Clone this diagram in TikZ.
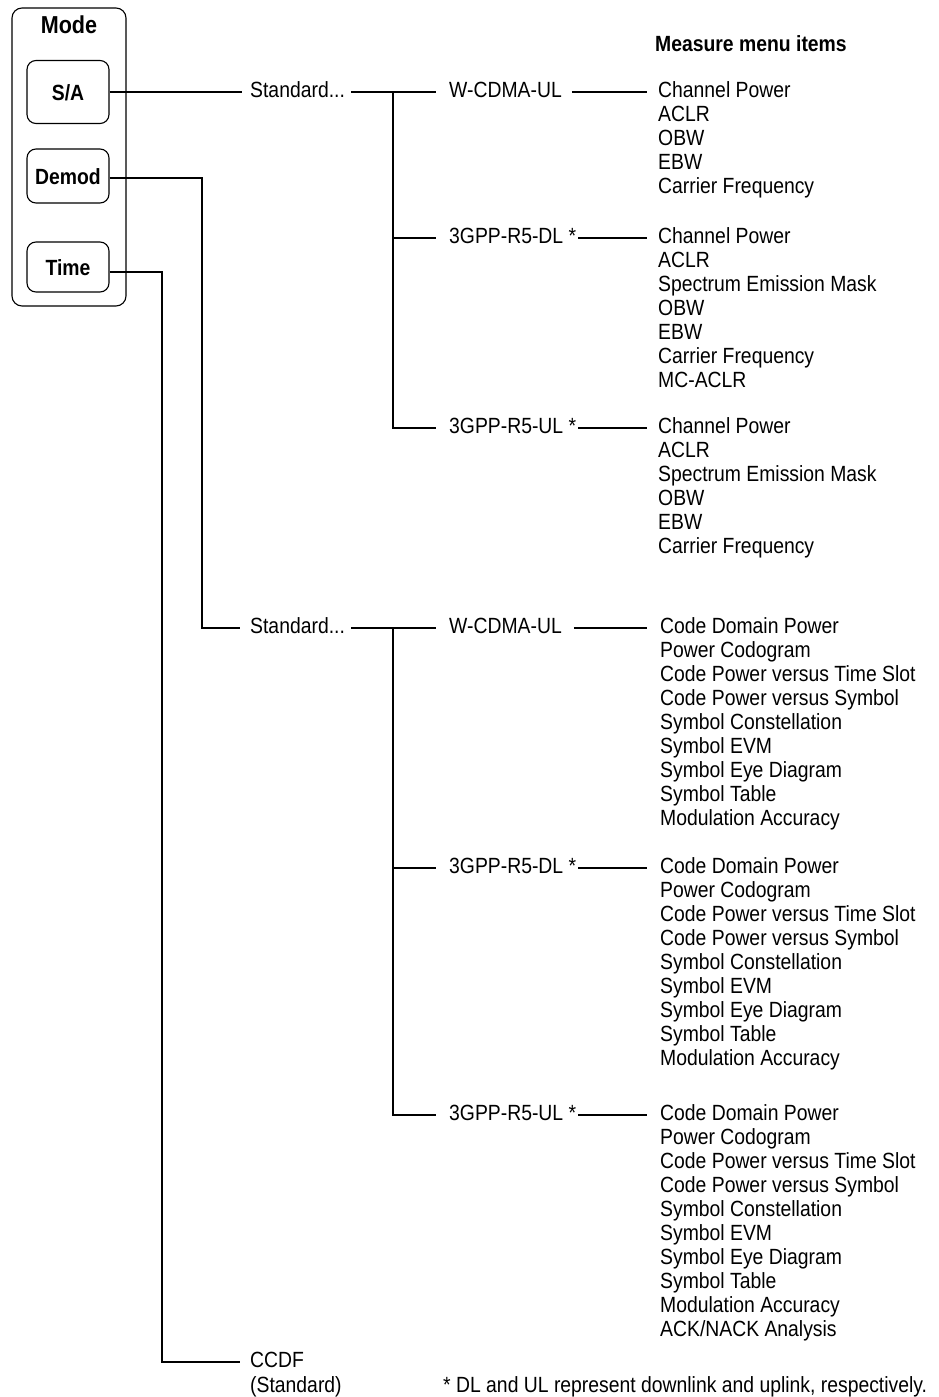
\documentclass[tikz,border=0pt]{standalone}
\usepackage{fontspec}
\setmainfont{Liberation Sans}[FakeStretch=0.88]
\newcommand{\lbl}{\fontsize{22}{24}\selectfont}
\begin{document}
\begin{tikzpicture}[x=1pt,y=-1pt,
  lab/.style={inner sep=0pt, text height=11pt, text depth=0pt, anchor=west, font=\lbl},
  conn/.style={line width=1.8pt},
  modebox/.style={draw, line width=1.1pt, rounded corners=9pt, minimum width=82pt,
     font=\lbl\bfseries, text height=16pt, text depth=0pt, inner sep=0pt},
]
\useasboundingbox (0,0) rectangle (938,1397);
% Mode panel
\node[draw, line width=1.1pt, rounded corners=10pt, minimum width=114pt, minimum height=298pt, inner sep=0pt] (panel) at (69,157) {};
\node[font=\fontsize{24.5}{26}\selectfont\bfseries, anchor=base, inner sep=0pt] (mode) at (69,34) {Mode};
\node[modebox, minimum height=63pt] (sa) at (68,92) {S/A};
\node[modebox, minimum height=54pt] (demod) at (68,176) {Demod};
\node[modebox, minimum height=50pt] (time) at (68,267) {Time};

% header
\node[font=\lbl\bfseries, anchor=base west, inner sep=0pt] (hdr) at (655,52) {Measure menu items};

% S/A tree
\node[lab] (std1) at (250,92) {Standard...};
\node[lab] (wc1) at (449,92) {W-CDMA-UL};
\node[lab] (dl1) at (449,238) {3GPP-R5-DL *};
\node[lab] (ul1) at (449,428) {3GPP-R5-UL *};
\coordinate (j1) at (393,92);

\foreach \t [count=\i from 0] in {Channel Power,ACLR,OBW,EBW,Carrier Frequency}
  \node[lab] (a\i) at (658,92+24*\i) {\t};
\foreach \t [count=\i from 0] in {Channel Power,ACLR,Spectrum Emission Mask,OBW,EBW,Carrier Frequency,MC-ACLR}
  \node[lab] (b\i) at (658,238+24*\i) {\t};
\foreach \t [count=\i from 0] in {Channel Power,ACLR,Spectrum Emission Mask,OBW,EBW,Carrier Frequency}
  \node[lab] (c\i) at (658,428+24*\i) {\t};

\draw[conn, shorten >=8pt] (sa.east) -- (sa.east -| std1.west);
\draw[conn, shorten <=6pt, shorten >=13pt] (std1.east) -- (wc1.west);
\draw[conn] (j1) -- (j1 |- ul1.west);
\draw[conn, shorten >=13pt] (j1) |- (dl1.west);
\draw[conn, shorten >=13pt] (j1) |- (ul1.west);
\draw[conn, shorten <=10pt, shorten >=11pt] (wc1.east) -- (a0.west);
\draw[conn, shorten <=2pt, shorten >=11pt] (dl1.east) -- (b0.west);
\draw[conn, shorten <=2pt, shorten >=11pt] (ul1.east) -- (c0.west);

% Demod tree
\node[lab] (std2) at (250,628) {Standard...};
\node[lab] (wc2) at (449,628) {W-CDMA-UL};
\node[lab] (dl2) at (449,868) {3GPP-R5-DL *};
\node[lab] (ul2) at (449,1115) {3GPP-R5-UL *};
\coordinate (j2) at (393,628);
\coordinate (dc) at (202,628);

\foreach \t [count=\i from 0] in {Code Domain Power,Power Codogram,Code Power versus Time Slot,Code Power versus Symbol,Symbol Constellation,Symbol EVM,Symbol Eye Diagram,Symbol Table,Modulation Accuracy}
  \node[lab] (d\i) at (660,628+24*\i) {\t};
\foreach \t [count=\i from 0] in {Code Domain Power,Power Codogram,Code Power versus Time Slot,Code Power versus Symbol,Symbol Constellation,Symbol EVM,Symbol Eye Diagram,Symbol Table,Modulation Accuracy}
  \node[lab] (e\i) at (660,868+24*\i) {\t};
\foreach \t [count=\i from 0] in {Code Domain Power,Power Codogram,Code Power versus Time Slot,Code Power versus Symbol,Symbol Constellation,Symbol EVM,Symbol Eye Diagram,Symbol Table,Modulation Accuracy,ACK/NACK Analysis}
  \node[lab] (f\i) at (660,1115+24*\i) {\t};

\draw[conn, shorten >=10pt] ([yshift=-2pt]demod.east) -| (dc) -- (std2.west);
\draw[conn, shorten <=6pt, shorten >=13pt] (std2.east) -- (wc2.west);
\draw[conn] (j2) -- (j2 |- ul2.west);
\draw[conn, shorten >=13pt] (j2) |- (dl2.west);
\draw[conn, shorten >=13pt] (j2) |- (ul2.west);
\draw[conn, shorten <=12pt, shorten >=13pt] (wc2.east) -- (d0.west);
\draw[conn, shorten <=2pt, shorten >=13pt] (dl2.east) -- (e0.west);
\draw[conn, shorten <=2pt, shorten >=13pt] (ul2.east) -- (f0.west);

% Time
\node[lab] (ccdf) at (250,1362) {CCDF};
\node[font=\lbl, anchor=base west, inner sep=0pt] (ccdfs) at (250,1392) {(Standard)};
\coordinate (tc) at (162,1362);
\draw[conn, shorten >=10pt] ([yshift=-5pt]time.east) -| (tc) -- (ccdf.west);

% footnote
\node[font=\lbl, anchor=base west, inner sep=0pt] (note) at (443,1392) {* DL and UL represent downlink and uplink, respectively.};
\end{tikzpicture}
\end{document}
